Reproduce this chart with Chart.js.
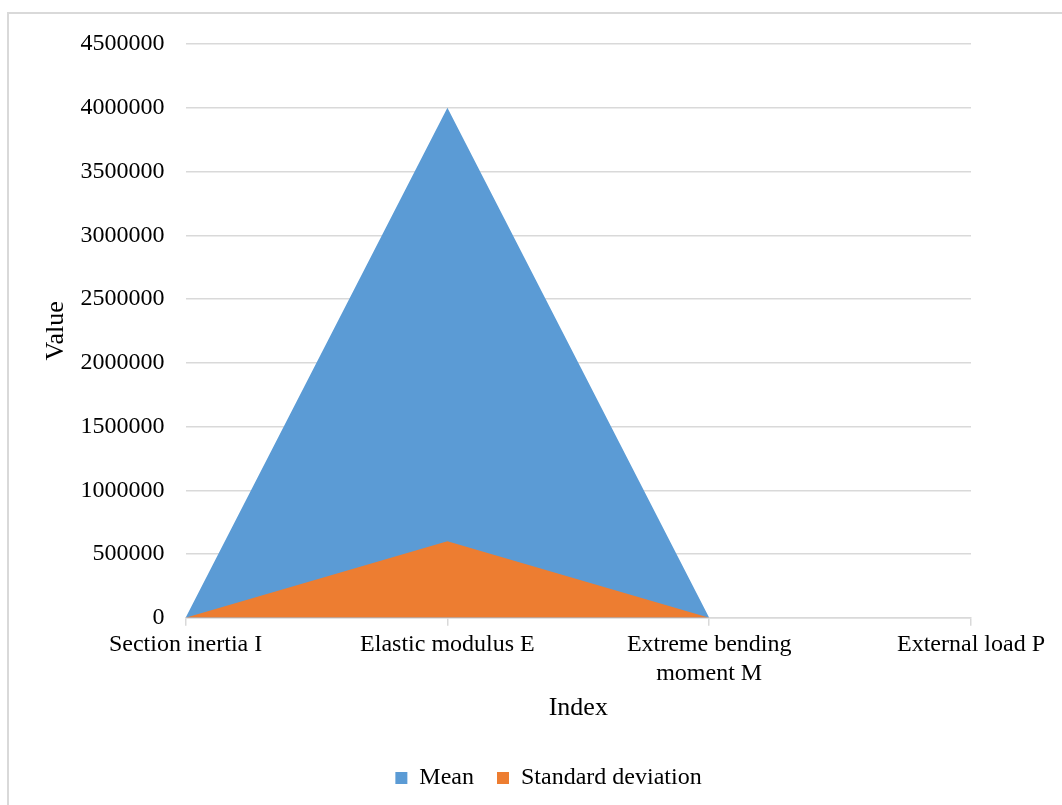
<!DOCTYPE html>
<html>
<head>
<meta charset="utf-8">
<script src="https://cdn.jsdelivr.net/npm/chart.js@4.4.1/dist/chart.umd.min.js"></script>
<style>
  html, body { margin: 0; padding: 0; background: #ffffff; }
  #wrap { position: relative; width: 1062px; height: 805px; }
</style>
</head>
<body>
<div id="wrap"><canvas id="chart" width="1062" height="805"></canvas></div>
<script>
// Parameter categories along the x axis
const categories = [
  'Section inertia I',
  'Elastic modulus E',
  ['Extreme bending', 'moment M'],
  'External load P'
];
// Series values
const meanValues = [0, 4000000, 0, 0];
const stdValues = [0, 600000, 0, 0];
// Value axis ticks
const yTicks = [0, 500000, 1000000, 1500000, 2000000, 2500000, 3000000, 3500000, 4000000, 4500000];

const FONT = "'Liberation Serif', 'Times New Roman', serif";
const TEXT = '#000000';
const GRID = '#d9d9d9';

// Light frame around the chart
const framePlugin = {
  id: 'frame',
  beforeDraw(chart) {
    const ctx = chart.ctx;
    ctx.save();
    ctx.strokeStyle = '#d9d9d9';
    ctx.lineWidth = 2;
    ctx.strokeRect(8, 13, chart.width + 10, chart.height + 10);
    ctx.restore();
  }
};

// Nudge the legend row to the right
const legendShift = {
  id: 'legendShift',
  afterLayout(chart) {
    const lg = chart.legend;
    if (!lg) return;
    const dx = 42;
    lg.left += dx;
    lg.right += dx;
  }
};

new Chart(document.getElementById('chart'), {
  type: 'line',
  data: {
    labels: categories,
    datasets: [
      {
        label: 'Mean',
        data: meanValues,
        backgroundColor: '#5B9BD5',
        borderColor: '#5B9BD5',
        borderWidth: 0,
        pointRadius: 0,
        fill: 'origin',
        tension: 0,
        order: 2
      },
      {
        label: 'Standard deviation',
        data: stdValues,
        backgroundColor: '#ED7D31',
        borderColor: '#ED7D31',
        borderWidth: 0,
        pointRadius: 0,
        fill: 'origin',
        tension: 0,
        order: 1
      }
    ]
  },
  options: {
    responsive: false,
    animation: false,
    layout: { padding: { left: 42, right: 91, top: 44, bottom: 5 } },
    plugins: {
      tooltip: { enabled: false },
      legend: {
        position: 'bottom',
        labels: {
          boxWidth: 12,
          boxHeight: 12,
          padding: 23,
          color: TEXT,
          font: { family: FONT, size: 24 },
          sort: (a, b) => a.datasetIndex - b.datasetIndex
        }
      }
    },
    scales: {
      x: {
        offset: false,
        grid: {
          drawOnChartArea: false,
          drawTicks: true,
          tickLength: 8,
          color: GRID,
          lineWidth: 1.5
        },
        border: { display: true, color: GRID, width: 1.5 },
        ticks: {
          color: TEXT,
          font: { family: FONT, size: 24 },
          maxRotation: 0,
          autoSkip: false,
          padding: 5
        },
        title: {
          display: true,
          text: 'Index',
          color: TEXT,
          font: { family: FONT, size: 26, lineHeight: 1.1 },
          padding: { top: 0, bottom: 21 }
        }
      },
      y: {
        min: 0,
        max: 4500000,
        afterBuildTicks(axis) {
          axis.ticks = yTicks.map(v => ({ value: v }));
        },
        grid: {
          color: GRID,
          lineWidth: 1.5,
          drawTicks: true,
          tickLength: 11,
          tickColor: 'rgba(0,0,0,0)'
        },
        border: { display: false },
        ticks: {
          color: TEXT,
          font: { family: FONT, size: 24 },
          padding: 10,
          callback: v => String(v)
        },
        title: {
          display: true,
          text: 'Value',
          color: TEXT,
          font: { family: FONT, size: 26, lineHeight: 1.1 },
          padding: { top: 0, bottom: 0 }
        }
      }
    }
  },
  plugins: [framePlugin, legendShift]
});
</script>
</body>
</html>
